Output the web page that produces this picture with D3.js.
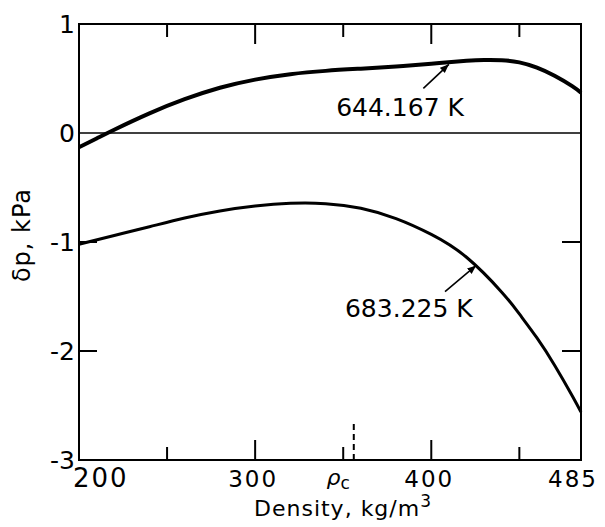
<!DOCTYPE html>
<html>
<head>
<meta charset="utf-8">
<script src="https://cdn.jsdelivr.net/npm/d3@7"></script>
<style>
  body { margin: 0; background: #fff; }
  text { font-family: "DejaVu Sans", sans-serif; fill: #000; }
</style>
</head>
<body>
<div id="chart"></div>
<script>
// data (density in kg/m3, delta p in kPa)
var density644 = [200, 210, 220, 240, 260, 280, 300, 320, 340, 360, 380, 400, 420, 430, 440, 450, 460, 470, 480, 485];
var dp644 = [-0.13, -0.05, 0.03, 0.18, 0.31, 0.415, 0.49, 0.54, 0.57, 0.59, 0.61, 0.635, 0.662, 0.67, 0.668, 0.648, 0.6, 0.525, 0.43, 0.37];

var density683 = [200, 220, 240, 260, 280, 300, 320, 340, 360, 380, 400, 420, 440, 450, 460, 470, 480, 485];
var dp683 = [-1.02, -0.94, -0.86, -0.78, -0.715, -0.67, -0.645, -0.648, -0.69, -0.785, -0.93, -1.14, -1.46, -1.66, -1.88, -2.13, -2.41, -2.56];

var xMajor = [300, 400];
var xMinor = [250, 350, 450];
var xLabels = [200, 300, 400, 485];
var yTicks = [-1, -2];
var yLabels = ["1", "0", "-1", "-2", "-3"];
var yLabelValues = [1, 0, -1, -2, -3];
var rhoC = 356;

var curveLabels = [
  {text: "644.167 K", x: 346, y: 0.155, tail: [395.5, 0.41], head: [410, 0.63]},
  {text: "683.225 K", x: 351, y: -1.69, tail: [407.8, -1.456], head: [425.5, -1.215]}
];

var W = 605, H = 527;
var margin = {top: 24, right: 24, bottom: 67, left: 79},
    width = W - margin.left - margin.right,
    height = H - margin.top - margin.bottom;

var x = d3.scaleLinear().domain([200, 485]).range([0, width]);
var y = d3.scaleLinear().domain([-3, 1]).range([height, 0]);

var svg = d3.select("#chart").append("svg")
    .attr("width", W)
    .attr("height", H)
  .append("g")
    .attr("transform", "translate(" + margin.left + "," + margin.top + ")");

// arrow head
svg.append("defs").append("marker")
    .attr("id", "arr")
    .attr("viewBox", "0 0 10 10")
    .attr("refX", 10).attr("refY", 5)
    .attr("markerWidth", 9).attr("markerHeight", 9)
    .attr("markerUnits", "userSpaceOnUse")
    .attr("orient", "auto")
  .append("path")
    .attr("d", "M0,1 L10,5 L0,9 Z")
    .style("fill", "#000");

// frame
svg.append("rect")
    .attr("width", width)
    .attr("height", height)
    .style("fill", "none")
    .style("stroke", "#000")
    .style("stroke-width", 2);

// zero line
svg.append("line")
    .attr("x1", 0).attr("x2", width)
    .attr("y1", y(0)).attr("y2", y(0))
    .style("stroke", "#000")
    .style("stroke-width", 1.5);

// inward ticks on bottom and top
[[xMajor, 20], [xMinor, 13]].forEach(function(set) {
  svg.selectAll(null).data(set[0]).enter().append("line")
      .attr("x1", function(d) { return x(d); }).attr("x2", function(d) { return x(d); })
      .attr("y1", height).attr("y2", height - set[1])
      .style("stroke", "#000").style("stroke-width", 2);
  svg.selectAll(null).data(set[0]).enter().append("line")
      .attr("x1", function(d) { return x(d); }).attr("x2", function(d) { return x(d); })
      .attr("y1", 0).attr("y2", set[1])
      .style("stroke", "#000").style("stroke-width", 2);
});

// inward ticks left and right
svg.selectAll(null).data(yTicks).enter().append("line")
    .attr("x1", 0).attr("x2", 18)
    .attr("y1", function(d) { return y(d); }).attr("y2", function(d) { return y(d); })
    .style("stroke", "#000").style("stroke-width", 2);
svg.selectAll(null).data(yTicks).enter().append("line")
    .attr("x1", width).attr("x2", width - 19)
    .attr("y1", function(d) { return y(d); }).attr("y2", function(d) { return y(d); })
    .style("stroke", "#000").style("stroke-width", 2);

// y tick labels
svg.selectAll("text.ylab")
    .data(yLabelValues)
    .enter().append("text")
    .attr("class", "ylab")
    .attr("x", -4)
    .attr("y", function(d) { return y(d); })
    .attr("dy", "0.36em")
    .style("text-anchor", "end")
    .style("font-size", "25px")
    .text(function(d, i) { return yLabels[i]; });

// x tick labels
svg.selectAll("text.xlab")
    .data(xLabels)
    .enter().append("text")
    .attr("class", "xlab")
    .attr("x", function(d, i) {
      if (i == 0) return x(d) - 6;
      if (i == xLabels.length - 1) return x(d) + 17;
      return x(d) - 2;
    })
    .attr("y", height + 27)
    .style("text-anchor", function(d, i) {
      return i == 0 ? "start" : (i == xLabels.length - 1 ? "end" : "middle");
    })
    .style("font-size", function(d, i) { return i == 0 ? "26px" : "23px"; })
    .style("letter-spacing", "2px")
    .text(function(d) { return d; });

// critical density marker
svg.append("line")
    .attr("x1", x(rhoC)).attr("x2", x(rhoC))
    .attr("y1", height).attr("y2", height - 38)
    .style("stroke", "#000")
    .style("stroke-width", 2)
    .style("stroke-dasharray", "6,4");
var rc = svg.append("text")
    .attr("x", x(rhoC) - 4)
    .attr("y", height + 25)
    .style("text-anchor", "end")
    .style("font-size", "22px");
rc.append("tspan").style("font-style", "italic").text("ρ");
rc.append("tspan").attr("dy", 4).style("font-size", "17px").text("c");

// curves
var line = d3.line()
    .x(function(d) { return x(d[0]); })
    .y(function(d) { return y(d[1]); })
    .curve(d3.curveNatural);

svg.append("path")
    .datum(d3.zip(density644, dp644))
    .attr("d", line)
    .style("fill", "none")
    .style("stroke", "#000")
    .style("stroke-width", 4);

svg.append("path")
    .datum(d3.zip(density683, dp683))
    .attr("d", line)
    .style("fill", "none")
    .style("stroke", "#000")
    .style("stroke-width", 3);

// curve labels with arrows
curveLabels.forEach(function(c) {
  svg.append("text")
      .attr("x", x(c.x))
      .attr("y", y(c.y))
      .style("font-size", "25px")
      .text(c.text);
  svg.append("line")
      .attr("x1", x(c.tail[0])).attr("y1", y(c.tail[1]))
      .attr("x2", x(c.head[0])).attr("y2", y(c.head[1]))
      .style("stroke", "#000")
      .style("stroke-width", 1.6)
      .attr("marker-end", "url(#arr)");
});

// axis titles
svg.append("text")
    .attr("x", 254 - margin.left)
    .attr("y", height + 56)
    .style("font-size", "22px")
    .style("letter-spacing", "1px")
    .text("Density, kg/m")
  .append("tspan")
    .attr("dy", -9)
    .style("font-size", "17px")
    .text("3");

svg.append("text")
    .attr("transform", "rotate(-90)")
    .attr("x", -(235 - margin.top))
    .attr("y", 30 - margin.left)
    .style("text-anchor", "middle")
    .style("font-size", "24px")
    .style("letter-spacing", "1px")
    .text("δp, kPa");
</script>
</body>
</html>
